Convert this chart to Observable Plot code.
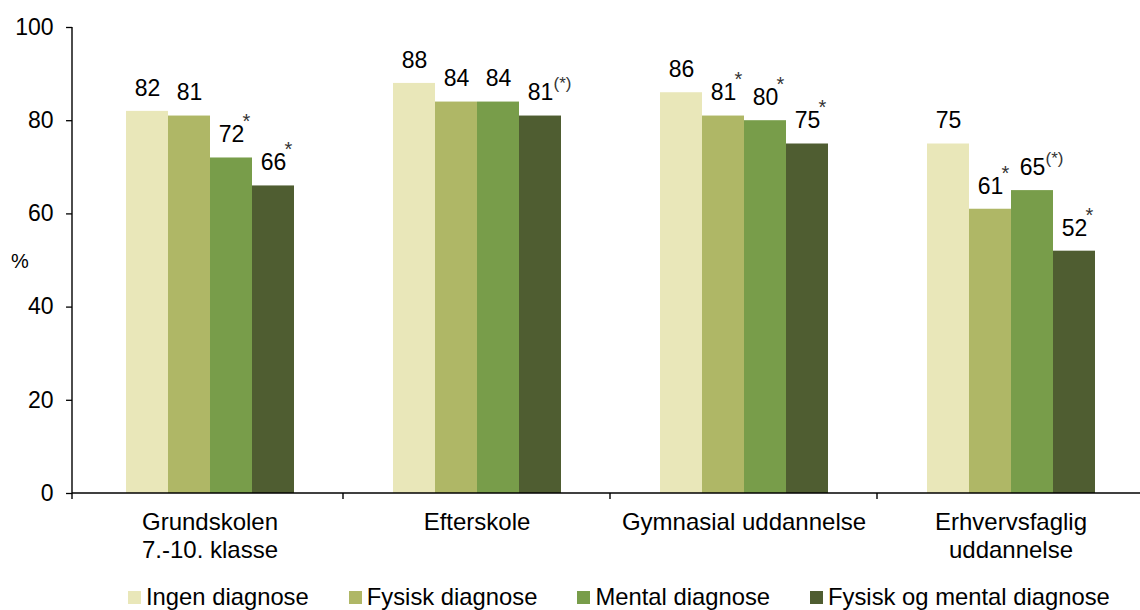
<!DOCTYPE html>
<html>
<head>
<meta charset="utf-8">
<script src="https://cdn.jsdelivr.net/npm/d3@7"></script>
<script src="https://cdn.jsdelivr.net/npm/@observablehq/plot@0.6"></script>
<style>
  html, body { margin: 0; padding: 0; background: #fff; overflow: hidden; }
  body { font-family: "Liberation Sans", Arial, sans-serif; width: 1140px; height: 610px; }
  #legend { display: flex; align-items: center; margin-left: 128px; margin-top: 10px; height: 46px; font-size: 23.8px; color: #000; white-space: nowrap; }
  #legend .item { display: flex; align-items: center; margin-right: 40px; }
  #legend .sw { width: 13px; height: 13px; margin-right: 5px; flex: none; }
</style>
</head>
<body>
<div id="chart"></div>
<div id="legend"></div>
<script>
const categories = ["Grundskolen\n7.-10. klasse", "Efterskole", "Gymnasial uddannelse", "Erhvervsfaglig\nuddannelse"];
const series = ["Ingen diagnose", "Fysisk diagnose", "Mental diagnose", "Fysisk og mental diagnose"];
const colors = ["#E9E7B9", "#AFB766", "#789D4A", "#4F5D31"];

const ingenDiagnose = [82, 88, 86, 75];
const fysiskDiagnose = [81, 84, 81, 61];
const mentalDiagnose = [72, 84, 80, 65];
const fysiskOgMental = [66, 81, 75, 52];

const ingenNotes = ["", "", "", ""];
const fysiskNotes = ["", "", "*", "*"];
const mentalNotes = ["*", "", "*", "(*)"];
const fysiskOgMentalNotes = ["*", "(*)", "*", "*"];

const yTicks = [0, 20, 40, 60, 80, 100];

const seriesValues = [ingenDiagnose, fysiskDiagnose, mentalDiagnose, fysiskOgMental];
const seriesNotes = [ingenNotes, fysiskNotes, mentalNotes, fysiskOgMentalNotes];

const data = [];
categories.forEach((c, i) => {
  series.forEach((s, j) => {
    data.push({category: c, series: s, value: seriesValues[j][i], note: seriesNotes[j][i]});
  });
});

const FONT = "'Liberation Sans', Arial, sans-serif";
const W = 1148, ML = 72, MR = 0;
const fxOptions = {domain: categories, paddingInner: 0.36, paddingOuter: 0.1946, label: null};
// where the first facet starts, so the y axis can sit on the frame's left edge
const fxProbe = Plot.scale({fx: {...fxOptions, range: [ML, W - MR]}});
const axisShift = ML - fxProbe.apply(categories[0]);

const plot = Plot.plot({
  width: W,
  height: 564,
  marginLeft: ML,
  marginRight: MR,
  marginTop: 27,
  marginBottom: 71,
  style: {fontFamily: FONT, fontSize: "23px", color: "#000", background: "transparent", maxWidth: "none", overflow: "visible"},
  fx: fxOptions,
  x: {domain: series, padding: 0, axis: null},
  y: {domain: [0, 100], label: null},
  color: {domain: series, range: colors},
  marks: [
    Plot.barY(data, {fx: "category", x: "series", y: "value", fill: "series"}),
    Plot.text(data, {fx: "category", x: "series", y: "value", text: d => String(d.value), dy: -23, fontSize: 23, fill: "#000"}),
    Plot.text(data.filter(d => d.note === "*"), {fx: "category", x: "series", y: "value", text: "note", textAnchor: "start", dx: 11, dy: -36, fontSize: 20, fill: "#333"}),
    Plot.text(data.filter(d => d.note === "(*)"), {fx: "category", x: "series", y: "value", text: "note", textAnchor: "start", dx: 13, dy: -32, fontSize: 17, fill: "#333"}),
    Plot.axisY({ticks: yTicks, tickSize: 6, tickPadding: 13, fontSize: 23, label: null, tickFormat: d => String(d), strokeWidth: 1.3, dx: axisShift}),
    Plot.axisFx({anchor: "bottom", tickSize: 0, tickPadding: 17, fontSize: 24, lineHeight: 1.15, label: null})
  ]
});

document.getElementById("chart").appendChild(plot);

// axis lines (domain lines and category-boundary ticks)
const svg = d3.select(plot);
const ys = plot.scale("y");
const fxs = plot.scale("fx");
const yBottom = ys.apply(0);
const yTop = ys.apply(100);
const g = svg.append("g").attr("stroke", "#000").attr("stroke-width", 1.4).attr("fill", "none");
g.append("line").attr("x1", ML).attr("x2", ML).attr("y1", yTop).attr("y2", yBottom + 6);
g.append("line").attr("x1", ML).attr("x2", W).attr("y1", yBottom).attr("y2", yBottom);
for (let i = 0; i < categories.length - 1; i++) {
  const a = fxs.apply(categories[i]) + fxs.bandwidth;
  const b = fxs.apply(categories[i + 1]);
  const xm = (a + b) / 2;
  g.append("line").attr("x1", xm).attr("x2", xm).attr("y1", yBottom).attr("y2", yBottom + 6);
}
svg.append("text")
  .attr("x", 20).attr("y", (yTop + yBottom) / 2 + 1)
  .attr("text-anchor", "middle").attr("dominant-baseline", "central")
  .attr("font-size", 20).attr("font-family", FONT).attr("fill", "#000")
  .text("%");

// legend
const legend = d3.select("#legend");
series.forEach((s, j) => {
  const item = legend.append("div").attr("class", "item");
  item.append("div").attr("class", "sw").style("background", colors[j]);
  item.append("span").text(s);
});
</script>
</body>
</html>
